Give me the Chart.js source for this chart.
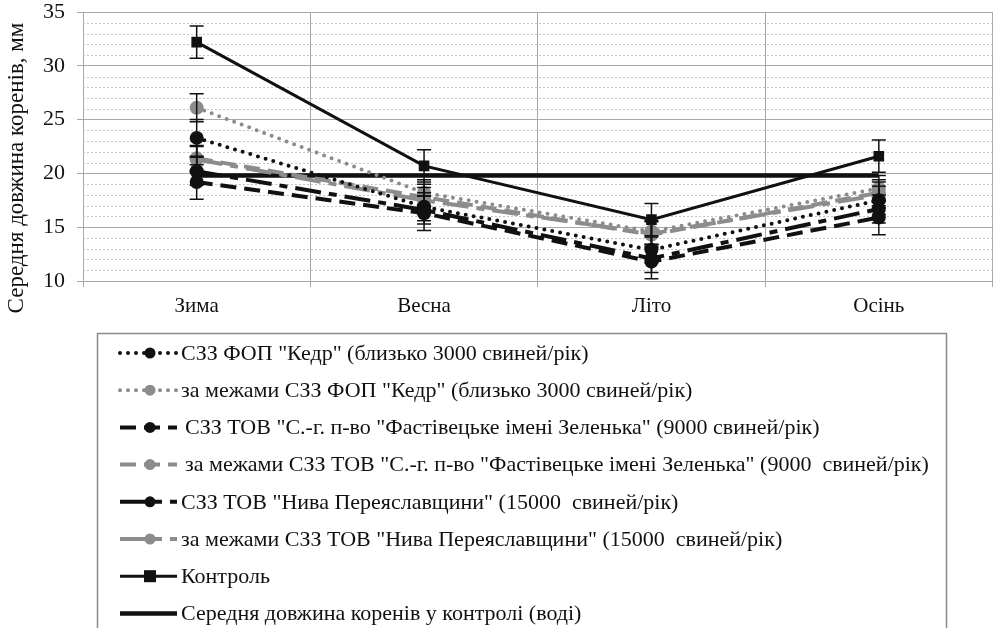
<!DOCTYPE html>
<html>
<head>
<meta charset="utf-8">
<script src="https://cdn.jsdelivr.net/npm/chart.js@4"></script>
<style>
  html, body { margin: 0; padding: 0; background: #fff; }
  #wrap { width: 1000px; height: 628px; position: relative; }
</style>
</head>
<body>
<div id="wrap"><canvas id="chart"></canvas></div>
<script>
// seasons
const seasons = ['Зима', 'Весна', 'Літо', 'Осінь'];

// mean root length, mm
const kedrIn = [23.3, 16.9, 12.9, 17.5];
const kedrOut = [26.1, 18.2, 14.6, 18.6];
const fastIn = [19.2, 16.3, 11.8, 15.9];
const fastOut = [21.4, 17.8, 14.3, 18.2];
const nyvaIn = [20.2, 16.6, 12.1, 16.7];
const nyvaOut = [21.3, 17.5, 14.4, 18.0];
const control = [32.2, 20.7, 15.7, 21.6];
const controlMean = [19.8, 19.8, 19.8, 19.8];

// error bar half widths
const kedrInErr = [1.7, 1.3, 1.2, 1.3];
const kedrOutErr = [1.3, 1.2, 1.2, 1.2];
const fastInErr = [1.6, 1.6, 1.6, 1.6];
const fastOutErr = [1.2, 1.2, 1.2, 1.2];
const nyvaInErr = [1.3, 1.3, 1.3, 1.3];
const nyvaOutErr = [1.2, 1.2, 1.2, 1.2];
const controlErr = [1.5, 1.5, 1.5, 1.5];

const yTicks = [10, 15, 20, 25, 30, 35];
const yTitle = 'Середня довжина коренів, мм';

const BLACK = '#111';
const GRAY = '#8c8c8c';
const SERIF = '"Liberation Serif", "DejaVu Serif", serif';

function series(label, data, err, color, dash, cap) {
    return {
        label: label,
        data: data,
        err: err,
        borderColor: color,
        backgroundColor: color,
        borderWidth: 4,
        borderDash: dash,
        borderCapStyle: cap || 'butt',
        pointRadius: 7,
        pointStyle: 'circle',
        pointBorderWidth: 0,
        tension: 0
    };
}

const datasets = [
    series('СЗЗ ФОП "Кедр" (близько 3000 свиней/рік)', kedrIn, kedrInErr, BLACK, [0, 8], 'round'),
    series('за межами СЗЗ ФОП "Кедр" (близько 3000 свиней/рік)', kedrOut, kedrOutErr, GRAY, [0, 8], 'round'),
    series('СЗЗ ТОВ "С.-г. п-во "Фастівецьке імені Зеленька" (9000 свиней/рік)', fastIn, fastInErr, BLACK, [16, 8]),
    series('за межами СЗЗ ТОВ "С.-г. п-во "Фастівецьке імені Зеленька" (9000  свиней/рік)', fastOut, fastOutErr, GRAY, [16, 8]),
    series('СЗЗ ТОВ "Нива Переяславщини" (15000  свиней/рік)', nyvaIn, nyvaInErr, BLACK, [26, 8, 8, 8]),
    series('за межами СЗЗ ТОВ "Нива Переяславщини" (15000  свиней/рік)', nyvaOut, nyvaOutErr, GRAY, [26, 8, 8, 8]),
    {
        label: 'Контроль',
        data: control,
        err: controlErr,
        borderColor: BLACK,
        backgroundColor: BLACK,
        borderWidth: 3,
        pointStyle: 'rect',
        pointRadius: 7.5,
        pointBorderWidth: 0,
        tension: 0
    },
    {
        label: 'Середня довжина коренів у контролі (воді)',
        data: controlMean,
        borderColor: BLACK,
        backgroundColor: BLACK,
        borderWidth: 4.5,
        pointRadius: 0,
        tension: 0
    }
];

// dotted minor grid every 1 mm
const minorGrid = {
    id: 'minorGrid',
    beforeDatasetsDraw(chart) {
        const ctx = chart.ctx, y = chart.scales.y, a = chart.chartArea;
        ctx.save();
        ctx.strokeStyle = '#c4c4c4';
        ctx.lineWidth = 1;
        ctx.setLineDash([2, 2]);
        for (let v = 11; v < 35; v++) {
            if (v % 5 === 0) continue;
            const py = Math.round(y.getPixelForValue(v)) + 0.5;
            ctx.beginPath();
            ctx.moveTo(a.left, py);
            ctx.lineTo(a.right, py);
            ctx.stroke();
        }
        ctx.restore();
    }
};

// vertical error bars with caps
const errorBars = {
    id: 'errorBars',
    afterDatasetsDraw(chart) {
        const ctx = chart.ctx, y = chart.scales.y;
        ctx.save();
        ctx.strokeStyle = BLACK;
        ctx.lineWidth = 1.5;
        ctx.setLineDash([]);
        chart.data.datasets.forEach((ds, i) => {
            if (!ds.err) return;
            chart.getDatasetMeta(i).data.forEach((pt, j) => {
                const top = y.getPixelForValue(ds.data[j] + ds.err[j]);
                const bot = y.getPixelForValue(ds.data[j] - ds.err[j]);
                ctx.beginPath();
                ctx.moveTo(pt.x, top); ctx.lineTo(pt.x, bot);
                ctx.moveTo(pt.x - 7, top); ctx.lineTo(pt.x + 7, top);
                ctx.moveTo(pt.x - 7, bot); ctx.lineTo(pt.x + 7, bot);
                ctx.stroke();
            });
        });
        ctx.restore();
    }
};

// rotated y title, boxed legend with one entry per row
const boxLegend = {
    id: 'boxLegend',
    afterDraw(chart) {
        const ctx = chart.ctx;
        ctx.save();
        ctx.translate(17, 168);
        ctx.rotate(-Math.PI / 2);
        ctx.font = '23px ' + SERIF;
        ctx.fillStyle = BLACK;
        ctx.textAlign = 'center';
        ctx.textBaseline = 'middle';
        ctx.fillText(yTitle, 0, 0);
        ctx.restore();

        ctx.save();
        ctx.strokeStyle = '#8a8a8a';
        ctx.lineWidth = 1.5;
        ctx.strokeRect(97.5, 333.5, 849, 320);
        ctx.font = '22px ' + SERIF;
        ctx.textBaseline = 'middle';
        chart.data.datasets.forEach((ds, i) => {
            const cy = 353 + i * 37.2;
            ctx.strokeStyle = ds.borderColor;
            ctx.lineWidth = ds.borderWidth;
            ctx.lineCap = ds.borderCapStyle || 'butt';
            ctx.setLineDash(ds.borderDash || []);
            ctx.beginPath();
            ctx.moveTo(120, cy);
            ctx.lineTo(177, cy);
            ctx.stroke();
            ctx.setLineDash([]);
            ctx.fillStyle = ds.backgroundColor;
            if (ds.pointRadius) {
                if (ds.pointStyle === 'rect') {
                    ctx.fillRect(144, cy - 6, 12, 12);
                } else {
                    ctx.beginPath();
                    ctx.arc(150, cy, 5.5, 0, Math.PI * 2);
                    ctx.fill();
                }
            }
            ctx.fillStyle = BLACK;
            ctx.fillText(ds.label, (i === 2 || i === 3) ? 185 : 181, cy + 1);
        });
        ctx.restore();
    }
};

new Chart(document.getElementById('chart'), {
    type: 'line',
    data: { labels: seasons, datasets: datasets },
    plugins: [minorGrid, errorBars, boxLegend],
    options: {
        responsive: true,
        maintainAspectRatio: false,
        animation: false,
        layout: { padding: { left: 0, top: 12, right: 2, bottom: 307 } },
        plugins: {
            legend: { display: false },
            tooltip: { enabled: false }
        },
        scales: {
            x: {
                offset: true,
                grid: { offset: true, color: '#a8a8a8', tickLength: 6 },
                border: { color: '#a8a8a8' },
                ticks: { color: BLACK, padding: 7, font: { family: SERIF, size: 21 } },
                afterFit(scale) {
                    scale.height = 40;
                    scale.paddingLeft = 0;
                    scale.paddingRight = 0;
                }
            },
            y: {
                min: 10,
                max: 35,
                afterBuildTicks(scale) { scale.ticks = yTicks.map(v => ({ value: v })); },
                grid: { color: '#a8a8a8', tickLength: 6 },
                border: { color: '#a8a8a8' },
                ticks: { color: BLACK, padding: 12, font: { family: SERIF, size: 22 } },
                afterFit(scale) {
                    scale.width = 83;
                    scale.paddingTop = 0;
                    scale.paddingBottom = 0;
                }
            }
        }
    }
});
</script>
</body>
</html>
